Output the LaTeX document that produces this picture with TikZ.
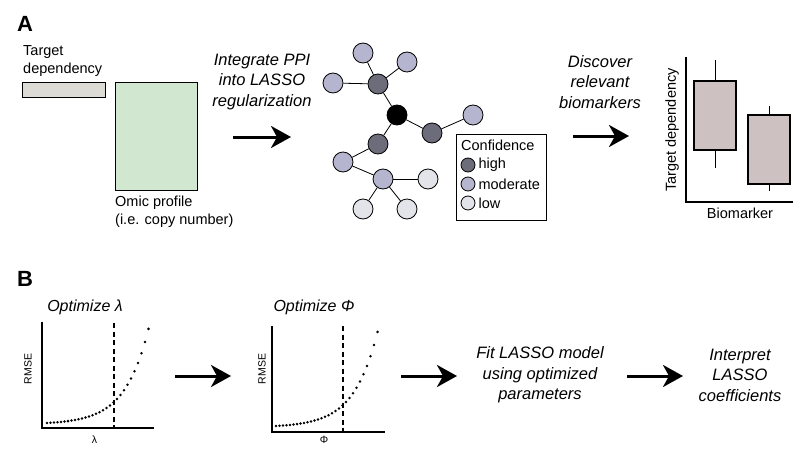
\documentclass[tikz,border=0pt]{standalone}
\usepackage{fontspec}
\setmainfont{Liberation Sans}
\usetikzlibrary{arrows.meta,positioning}

\definecolor{bargray}{RGB}{221,219,213}
\definecolor{omicgreen}{RGB}{210,231,208}
\definecolor{boxpink}{RGB}{205,193,193}
\definecolor{confhigh}{RGB}{108,108,122}
\definecolor{confmod}{RGB}{181,181,207}
\definecolor{conflow}{RGB}{227,227,234}

\tikzset{
  bigarrow/.style={line width=3pt,-{Stealth[length=20pt,width=22pt,inset=6pt]}},
  steptext/.style={align=center,font=\fontsize{16.5}{20.5}\selectfont\itshape},
  smalltext/.style={font=\fontsize{14.5}{18}\selectfont},
  tinytext/.style={font=\fontsize{10.5}{12}\selectfont},
  panel/.style={font=\fontsize{22}{24}\selectfont\bfseries},
  net/.style={circle,draw,line width=0.8pt,minimum size=20pt,inner sep=0pt},
  key/.style={circle,draw,line width=0.8pt,minimum size=14pt,inner sep=0pt},
  axis/.style={line width=1.1pt},
  optline/.style={line width=1.1pt,dash pattern=on 5pt off 3.5pt}
}

\begin{document}
\begin{tikzpicture}[x=1pt,y=-1pt]
\useasboundingbox (0,0) rectangle (810,452);

% panel A
\node[panel] (A) at (25,24) {A};
\node[smalltext,align=left,anchor=north west,inner sep=0pt] (tdep) at (23,45) {Target\\dependency};
\draw[line width=0.9pt,fill=bargray] (22,82) rectangle (105,97);
\draw[line width=0.9pt,fill=omicgreen] (115,82) rectangle (197,190);
\node[smalltext,align=left,anchor=north west,inner sep=0pt] (omic) at (115,196) {Omic profile\\(i.e. copy number)};

\node[steptext] (integ) at (262,82) {Integrate PPI\\into LASSO\\regularization};
\coordinate (a1s) at (233,137);
\coordinate (a1e) at (291,137);
\draw[bigarrow] (a1s) -- (a1e);

% PPI network
\node[net,fill=confmod] (n1) at (363,53) {};
\node[net,fill=confmod] (n2) at (407,62) {};
\node[net,fill=confmod] (n3) at (333,83) {};
\node[net,fill=confhigh] (h1) at (378,84) {};
\node[net,fill=black] (c) at (397,115) {};
\node[net,fill=confmod] (n4) at (473,115) {};
\node[net,fill=confhigh] (h2) at (432,133) {};
\node[net,fill=confhigh] (h3) at (378,144) {};
\node[net,fill=confmod] (n5) at (343,162) {};
\node[net,fill=confmod] (n6) at (383,179) {};
\node[net,fill=conflow] (l1) at (428,179) {};
\node[net,fill=conflow] (l2) at (363,209) {};
\node[net,fill=conflow] (l3) at (407,209) {};
\foreach \a/\b in {n1/h1,n2/h1,n3/h1,h1/c,c/h2,h2/n4,c/h3,h3/n5,n5/n6,n6/l1,n6/l2,n6/l3}
  \draw[line width=0.8pt] (\a) -- (\b);

% legend
\node[draw,line width=0.9pt,minimum width=90pt,minimum height=86pt,anchor=north west,inner sep=0pt] (legend) at (456,134) {};
\node[smalltext,anchor=west,inner sep=0pt] (conf) at (461,145) {Confidence};
\node[key,fill=confhigh] (khigh) at (468,165) {};
\node[key,fill=confmod] (kmod) at (468,184) {};
\node[key,fill=conflow] (klow) at (468,203) {};
\node[smalltext,anchor=west,inner sep=0pt,right=3pt of khigh] {high};
\node[smalltext,anchor=west,inner sep=0pt,right=3pt of kmod] {moderate};
\node[smalltext,anchor=west,inner sep=0pt,right=3pt of klow] {low};

\node[steptext] (disc) at (600,82) {Discover\\relevant\\biomarkers};
\coordinate (a2s) at (573,136);
\coordinate (a2e) at (629,136);
\draw[bigarrow] (a2s) -- (a2e);

% box plot
\draw[axis] (686,57) -- (686,202) -- (793,202);
\draw[line width=1pt] (715,60) -- (715,168);
\draw[line width=1.1pt,fill=boxpink] (694,81) rectangle (736,150);
\draw[line width=1pt] (769,106) -- (769,191);
\draw[line width=1.1pt,fill=boxpink] (748,115) rectangle (790,184);
\node[smalltext,rotate=90] (ylab) at (672,130) {Target dependency};
\node[smalltext] (xlab) at (740,213) {Biomarker};

% panel B
\node[panel] (B) at (25,279) {B};

% lambda plot
\node[steptext,font=\fontsize{16}{19}\selectfont\itshape] (optl) at (85,307) {Optimize λ};
\draw[axis] (42,322) -- (42,428) -- (154,428);
\draw[optline] (114,323) -- (114,428);
\foreach \x in {47,50.5,...,150}
  \fill ({\x},{423-1.343*(exp(0.042*(\x-47))-1)}) circle (1.4);
\node[tinytext,rotate=90] (rm1) at (28,369) {RMSE};
\node[tinytext] (lam) at (94.5,440) {λ};

\coordinate (b1s) at (175,376);
\coordinate (b1e) at (231,376);
\draw[bigarrow] (b1s) -- (b1e);

% phi plot
\node[steptext,font=\fontsize{16}{19}\selectfont\itshape] (optp) at (314,307) {Optimize Φ};
\draw[axis] (272,326) -- (272,432) -- (385,432);
\draw[optline] (343,326) -- (343,432);
\foreach \x in {276,279.5,...,380}
  \fill ({\x},{426-1.343*(exp(0.042*(\x-276))-1)}) circle (1.4);
\node[tinytext,rotate=90] (rm2) at (262,369) {RMSE};
\node[tinytext] (phi) at (324,440) {Φ};

\coordinate (b2s) at (401,376);
\coordinate (b2e) at (457,376);
\draw[bigarrow] (b2s) -- (b2e);
\node[steptext] (fit) at (540,375) {Fit LASSO model\\using optimized\\parameters};
\coordinate (b3s) at (627,376);
\coordinate (b3e) at (683,376);
\draw[bigarrow] (b3s) -- (b3e);
\node[steptext] (interp) at (740,375) {Interpret\\LASSO\\coefficients};
\end{tikzpicture}
\end{document}
